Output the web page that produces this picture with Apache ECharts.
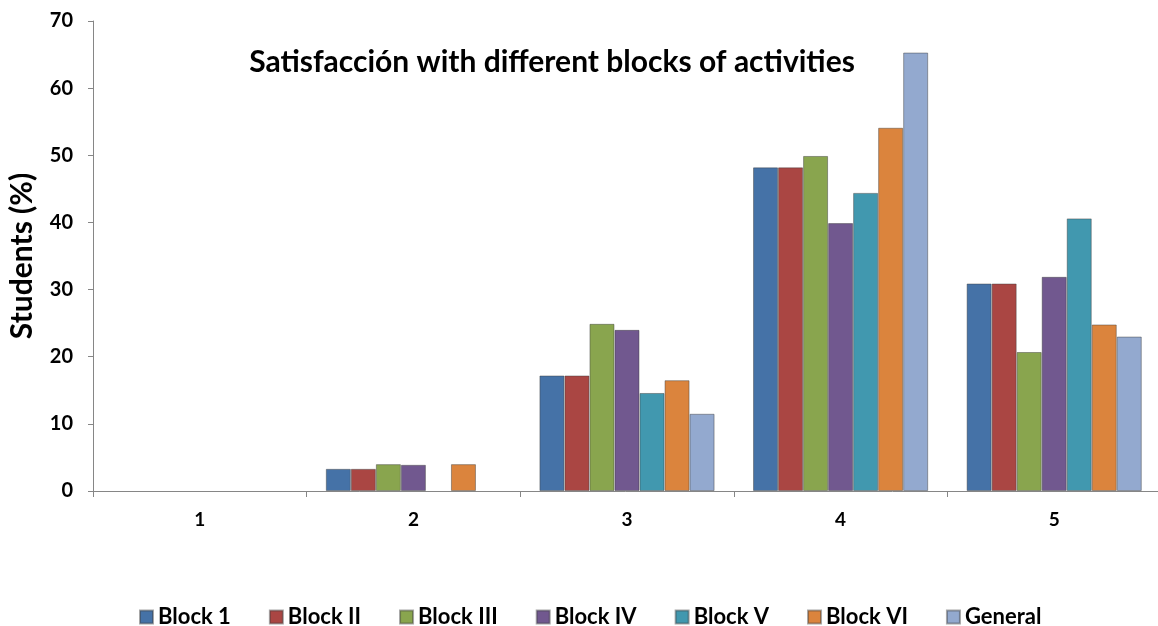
<!DOCTYPE html>
<html>
<head>
<meta charset="utf-8">
<script src="https://cdn.jsdelivr.net/npm/echarts@6/dist/echarts.min.js"></script>
<style>
  html, body { margin: 0; padding: 0; background: #fff; }
  #chart { width: 1158px; height: 626px; }
</style>
</head>
<body>
<div id="chart"></div>
<script>
// categories (satisfaction level) and series values (% of students)
var categories = ['1', '2', '3', '4', '5'];
var seriesNames = ['Block 1', 'Block II', 'Block III', 'Block IV', 'Block V', 'Block VI', 'General'];
var block1 = [0, 3.3, 17.2, 48.2, 30.9];
var block2 = [0, 3.3, 17.2, 48.2, 30.9];
var block3 = [0, 4.0, 24.9, 49.9, 20.7];
var block4 = [0, 3.9, 24.0, 39.9, 31.9];
var block5 = [0, 0, 14.6, 44.4, 40.6];
var block6 = [0, 4.0, 16.5, 54.1, 24.8];
var general = [0, 0, 11.5, 65.3, 23.0];
var colors = ['#4572A7', '#AA4643', '#89A54E', '#71588F', '#4198AF', '#DB843D', '#93A9CF'];

var chart = echarts.init(document.getElementById('chart'));
var allData = [block1, block2, block3, block4, block5, block6, general];
var font = 'Lato, "Open Sans", sans-serif';

var series = [];
for (var i = 0; i < seriesNames.length; i++) {
    series.push({
        name: seriesNames[i],
        type: 'bar',
        // zero bars have no outline in the original, so leave them empty
        data: allData[i].map(function(v) { return v === 0 ? '-' : v; }),
        barGap: '0%',
        barCategoryGap: '18%',
        itemStyle: {
            color: colors[i],
            borderColor: 'rgba(60,60,60,0.45)',
            borderWidth: 1
        }
    });
}

chart.setOption({
    animation: false,
    color: colors,
    title: {
        text: 'Satisfacción with different blocks of activities',
        left: 547,
        top: 42,
        textAlign: 'center',
        textStyle: { fontFamily: font, fontWeight: 'bold', fontSize: 30, color: '#000' }
    },
    grid: { left: 93, top: 21, width: 1068, height: 470, containLabel: false, outerBoundsMode: 'none' },
    legend: {
        data: seriesNames,
        left: 134,
        top: 601,
        itemWidth: 13,
        itemHeight: 13,
        itemGap: 38,
        icon: 'rect',
        textStyle: { fontFamily: font, fontWeight: 'bold', fontSize: 22, color: '#000' }
    },
    xAxis: {
        type: 'category',
        data: categories,
        axisLine: { lineStyle: { color: '#868686' } },
        axisTick: { show: true, length: 6, lineStyle: { color: '#868686' } },
        axisLabel: { fontFamily: font, fontWeight: 'bold', fontSize: 19, color: '#000', margin: 19 },
        splitLine: { show: false }
    },
    yAxis: {
        type: 'value',
        min: 0,
        max: 70,
        interval: 10,
        name: 'Students (%)',
        nameLocation: 'middle',
        nameGap: 56,
        nameTextStyle: { fontFamily: font, fontWeight: 'bold', fontSize: 30, color: '#000' },
        axisLine: { show: true, lineStyle: { color: '#868686' } },
        axisTick: { show: true, length: 5, lineStyle: { color: '#868686' } },
        axisLabel: { fontFamily: font, fontWeight: 'bold', fontSize: 20, color: '#000', margin: 20 },
        splitLine: { show: false }
    },
    series: series
});
</script>
</body>
</html>
